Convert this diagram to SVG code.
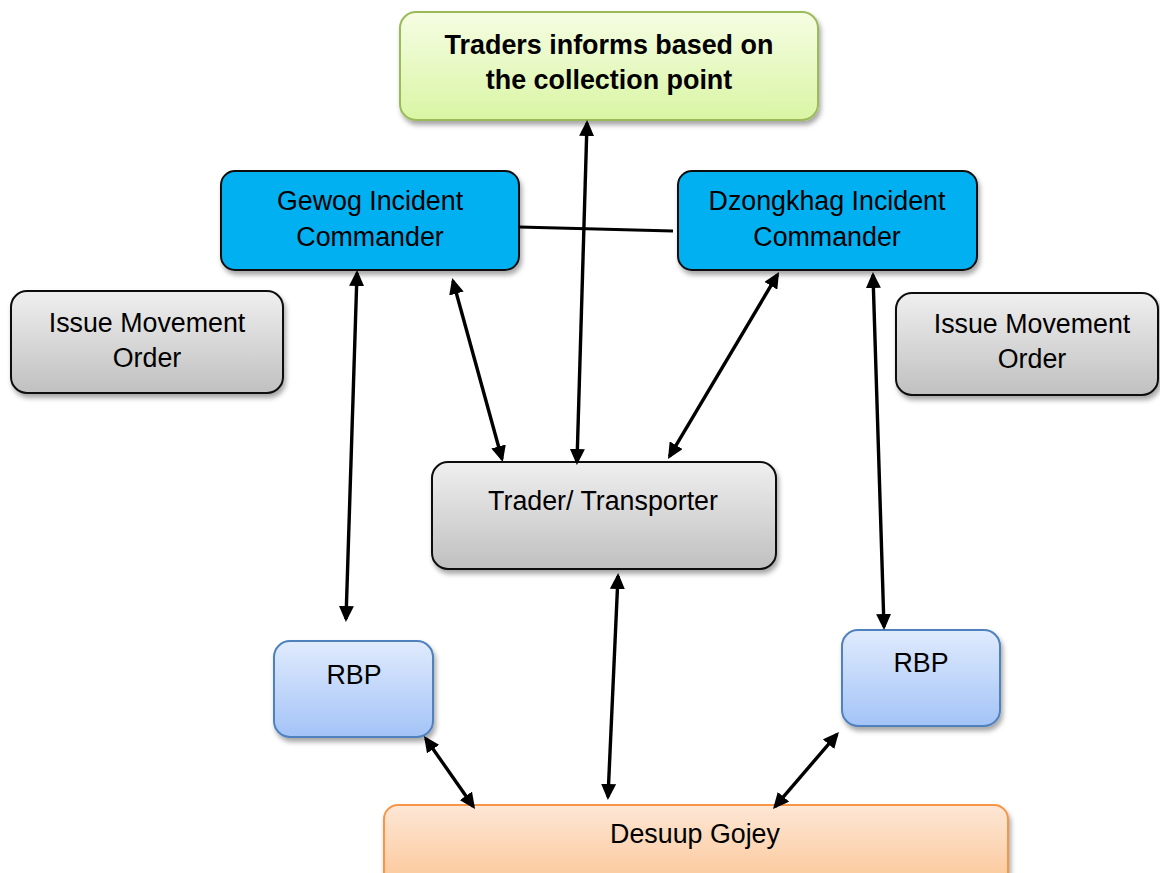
<svg xmlns="http://www.w3.org/2000/svg" width="1160" height="873" viewBox="0 0 1160 873">
<style>
  text { font-family: "Liberation Sans", Arial, sans-serif; font-size: 26.8px; fill: #000; text-anchor: middle; }
  .bold { font-weight: bold; font-size: 26.9px; }
  .conn line { stroke: #000; stroke-width: 3.4; marker-start: url(#ah); marker-end: url(#ah); }
  .conn line.plain { marker-start: none; marker-end: none; stroke-width: 3; }
  .box { filter: url(#sh); }
</style>
<defs>
  <filter id="sh" x="-10%" y="-10%" width="125%" height="130%">
    <feDropShadow dx="2" dy="4" stdDeviation="2.5" flood-color="#000" flood-opacity="0.35"/>
  </filter>
  <marker id="ah" viewBox="0 0 16 15" refX="13" refY="7.5" markerWidth="16" markerHeight="15" markerUnits="userSpaceOnUse" orient="auto-start-reverse">
    <path d="M0,0 L16,7.5 L0,15 z" fill="#000"/>
  </marker>
  <linearGradient id="gGreen" x1="0" y1="0" x2="0" y2="1">
    <stop offset="0" stop-color="#f6fde3"/>
    <stop offset="1" stop-color="#d9f5a4"/>
  </linearGradient>
  <linearGradient id="gGray" x1="0" y1="0" x2="0" y2="1">
    <stop offset="0" stop-color="#efefef"/>
    <stop offset="1" stop-color="#c0c0c0"/>
  </linearGradient>
  <linearGradient id="gBlue" x1="0" y1="0" x2="0" y2="1">
    <stop offset="0" stop-color="#e0ebfd"/>
    <stop offset="1" stop-color="#a3c3f7"/>
  </linearGradient>
  <linearGradient id="gOrange" x1="0" y1="0" x2="0" y2="1">
    <stop offset="0" stop-color="#fde7d6"/>
    <stop offset="1" stop-color="#fbbf88"/>
  </linearGradient>
</defs>
<rect width="1160" height="873" fill="#fff"/>

<g id="traders-informs">
  <rect class="box" x="400" y="12" width="418" height="108" rx="16" fill="url(#gGreen)" stroke="#9bbb59" stroke-width="2"/>
  <text class="bold" x="609" y="54">Traders informs based on</text>
  <text class="bold" x="609" y="89">the collection point</text>
</g>

<g id="gewog">
  <rect class="box" x="221" y="171" width="298" height="99" rx="14" fill="#00b0f0" stroke="#111" stroke-width="2"/>
  <text x="370" y="210">Gewog Incident</text>
  <text x="370" y="246">Commander</text>
</g>

<g id="dzongkhag">
  <rect class="box" x="678" y="171" width="299" height="99" rx="14" fill="#00b0f0" stroke="#111" stroke-width="2"/>
  <text x="827" y="210">Dzongkhag Incident</text>
  <text x="827" y="246">Commander</text>
</g>

<g id="issue-left">
  <rect class="box" x="11" y="291" width="272" height="102" rx="16" fill="url(#gGray)" stroke="#111" stroke-width="2"/>
  <text x="147" y="332">Issue Movement</text>
  <text x="147" y="367">Order</text>
</g>

<g id="issue-right">
  <rect class="box" x="896" y="293" width="262" height="102" rx="16" fill="url(#gGray)" stroke="#111" stroke-width="2"/>
  <text x="1032" y="333">Issue Movement</text>
  <text x="1032" y="368">Order</text>
</g>

<g id="trader">
  <rect class="box" x="432" y="462" width="344" height="107" rx="16" fill="url(#gGray)" stroke="#111" stroke-width="2"/>
  <text x="603" y="510">Trader/ Transporter</text>
</g>

<g id="rbp-left">
  <rect class="box" x="274" y="641" width="159" height="96" rx="16" fill="url(#gBlue)" stroke="#4f81bd" stroke-width="2"/>
  <text x="354" y="684">RBP</text>
</g>

<g id="rbp-right">
  <rect class="box" x="842" y="630" width="158" height="96" rx="16" fill="url(#gBlue)" stroke="#4f81bd" stroke-width="2"/>
  <text x="921" y="672">RBP</text>
</g>

<g id="desuup">
  <rect class="box" x="384" y="805" width="624" height="100" rx="14" fill="url(#gOrange)" stroke="#f79646" stroke-width="2"/>
  <text x="695" y="843">Desuup Gojey</text>
</g>

<g id="connectors" class="conn">
  <line class="plain" x1="519" y1="227" x2="673" y2="231"/>
  <line x1="577" y1="462" x2="587" y2="123"/>
  <line x1="357" y1="273" x2="346" y2="619"/>
  <line x1="453" y1="281" x2="502" y2="459"/>
  <line x1="777.5" y1="274.6" x2="669.5" y2="456.4"/>
  <line x1="873" y1="275" x2="884" y2="627"/>
  <line x1="618" y1="576" x2="608" y2="797"/>
  <line x1="425.7" y1="738.5" x2="473.3" y2="806.5"/>
  <line x1="837" y1="734.3" x2="775" y2="806.7"/>
</g>
</svg>
